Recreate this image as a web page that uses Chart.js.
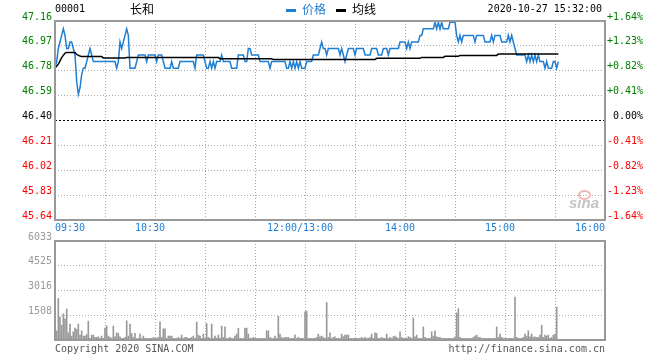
<!DOCTYPE html>
<html>
<head>
<meta charset="utf-8">
<script src="https://cdn.jsdelivr.net/npm/chart.js@4/dist/chart.umd.min.js"></script>
<style>
  body{margin:0;background:#fff;}
  #wrap{position:relative;width:660px;height:360px;overflow:hidden;font-family:"DejaVu Sans Mono",monospace;}
  #priceBox{position:absolute;left:0;top:0;width:660px;height:240px;}
  #volBox{position:absolute;left:0;top:230px;width:660px;height:119px;}
  .t{position:absolute;font-size:10px;line-height:12px;white-space:nowrap;color:#000;}
  .cjk{font-family:"Noto Sans CJK SC",sans-serif;font-size:12px;line-height:14px;}
  .key{display:inline-block;width:10px;height:3px;vertical-align:middle;margin-right:6px;}
</style>
</head>
<body>
<div id="wrap">
  <div id="priceBox"><canvas id="chartPrice" width="660" height="240"></canvas></div>
  <div id="volBox"><canvas id="chartVol" width="660" height="119"></canvas></div>

  <div class="t" style="left:55px;top:3px;">00001</div>
  <div class="t cjk" style="left:130px;top:2px;">长和</div>
  <div class="t cjk" style="left:286px;top:2px;color:#1f7fd3;"><span class="key" style="background:#1f7fd3"></span>价格</div>
  <div class="t cjk" style="left:336px;top:2px;"><span class="key" style="background:#000"></span>均线</div>
  <div class="t" style="right:58px;top:3px;">2020-10-27 15:32:00</div>

  <div class="t" style="left:569px;top:195px;font-family:'Liberation Sans',sans-serif;font-style:italic;font-weight:bold;font-size:15px;line-height:16px;color:#c4c4c4;">sina</div>
  <div style="position:absolute;left:578px;top:190px;width:9px;height:6px;border:2px solid #f4b6b6;border-radius:50%;"></div>

  <div class="t" style="left:55px;top:343px;color:#555;">Copyright 2020 SINA.COM</div>
  <div class="t" style="right:55px;top:343px;color:#555;">http://finance.sina.com.cn</div>
</div>

<script>
// 00001 CK Hutchison, intraday 2020-10-27
const prevClose = 46.40;
const priceTicks = [47.16, 46.97, 46.78, 46.59, 46.40, 46.21, 46.02, 45.83, 45.64];
const pctLabels = ["+1.64%","+1.23%","+0.82%","+0.41%","0.00%","-0.41%","-0.82%","-1.23%","-1.64%"];
const volTicks = [1508, 3016, 4525, 6033];
const timeLabels = ["09:30","10:30","12:00/13:00","14:00","15:00","16:00"];

const priceTimes = [
  "09:30","09:31","09:32","09:33","09:34","09:35","09:36","09:37","09:38","09:39","09:40","09:41","09:42","09:43","09:44","09:45",
  "09:46","09:47","09:48","09:49","09:50","09:51","09:52","09:53","10:06","10:07","10:08","10:09","10:10","10:11","10:12","10:13",
  "10:14","10:15","10:18","10:19","10:20","10:24","10:25","10:26","10:30","10:31","10:32","10:34","10:36","10:39","10:40","10:41",
  "10:44","10:45","10:53","10:54","10:55","10:59","11:00","11:01","11:02","11:03","11:04","11:05","11:06","11:07","11:09","11:10",
  "11:11","11:15","11:16","11:19","11:20","11:23","11:24","11:25","11:26","11:27","11:28","11:32","11:33","11:38","11:39","11:40",
  "11:48","11:49","11:50","11:51","11:52","11:53","11:54","11:55","11:56","11:57","11:58","12:00",
  "13:01","13:04","13:05","13:08","13:09","13:10","13:11","13:12","13:13","13:14","13:20","13:21","13:22","13:23","13:24","13:25",
  "13:26","13:29","13:30","13:31","13:35","13:36","13:39","13:40","13:43","13:44","13:46","13:47","13:49","13:50","13:51","13:56",
  "13:57","14:00","14:01","14:02","14:03","14:04","14:08","14:09","14:10","14:11","14:17","14:18","14:19","14:20","14:21","14:22",
  "14:23","14:26","14:27","14:30","14:31","14:32","14:33","14:34","14:35","14:41","14:42","14:43","14:47","14:48","14:51","14:52",
  "14:53","14:54","14:57","14:58","15:01","15:02","15:03","15:04","15:05","15:06","15:07","15:12","15:13","15:14","15:15","15:16",
  "15:17","15:18","15:19","15:20","15:21","15:23","15:24","15:25","15:26","15:28","15:29","15:30","15:31","15:32"
];
const priceValues = [
  46.80,46.85,46.95,47.00,47.05,47.10,47.05,46.95,46.95,47.00,47.00,46.95,46.90,46.70,46.60,46.65,
  46.75,46.80,46.80,46.85,46.90,46.95,46.90,46.85,46.85,46.80,46.85,47.00,46.95,47.00,47.05,47.10,
  47.05,46.80,46.80,46.85,46.90,46.90,46.85,46.90,46.90,46.85,46.90,46.90,46.80,46.80,46.85,46.80,
  46.80,46.85,46.85,46.80,46.90,46.90,46.85,46.80,46.80,46.85,46.80,46.85,46.80,46.85,46.85,46.90,
  46.85,46.85,46.80,46.80,46.90,46.90,46.85,46.85,46.95,46.95,46.90,46.90,46.85,46.85,46.80,46.85,
  46.85,46.80,46.80,46.85,46.80,46.85,46.80,46.85,46.80,46.85,46.80,46.80,
  46.85,46.85,46.90,46.90,46.95,47.00,46.95,46.95,46.90,46.95,46.95,46.90,46.95,46.90,46.85,46.90,
  46.95,46.95,46.90,46.95,46.95,46.90,46.90,46.95,46.95,46.90,46.90,46.95,46.95,46.90,46.95,46.95,
  47.00,47.00,46.95,47.00,46.95,47.00,47.00,47.05,47.05,47.10,47.10,47.15,47.10,47.15,47.10,47.15,
  47.10,47.10,47.15,47.15,47.05,47.00,47.05,47.00,47.05,47.05,47.00,47.05,47.05,47.00,47.00,47.05,
  47.00,47.05,47.05,47.00,47.00,47.05,47.00,47.05,47.00,46.95,46.90,46.90,46.85,46.90,46.85,46.90,
  46.85,46.90,46.85,46.90,46.85,46.85,46.80,46.85,46.80,46.80,46.85,46.85,46.80,46.85
];

const avgTimes = ["09:30","09:32","09:34","09:36","09:37","09:42","09:43","09:45","09:46","09:58","09:59","10:12","10:13","11:08","11:09",
  "11:40","11:41","12:00","13:42","13:43","14:09","14:10","14:23","14:24","14:32","14:33","14:55","14:56","15:32"];
const avgValues = [46.80,46.83,46.88,46.915,46.92,46.92,46.905,46.892,46.888,46.888,46.878,46.878,46.882,46.882,46.872,
  46.872,46.865,46.865,46.865,46.875,46.875,46.882,46.882,46.89,46.89,46.897,46.897,46.907,46.907];

// per-minute volume, 09:30..12:00 and 13:00..15:32
const volMorning = [
  0,560,2530,1400,900,1600,1290,1890,440,970,240,500,720,640,970,300,560,240,240,340,
  1150,100,300,300,160,160,200,100,240,100,720,850,240,160,100,850,200,440,400,200,
  100,100,160,1170,240,970,400,160,400,100,100,360,100,240,100,100,100,100,100,160,
  100,100,160,1110,160,680,680,100,240,240,240,100,100,100,160,100,300,100,160,160,
  100,100,160,240,100,1090,300,240,100,360,100,1000,160,100,970,100,240,100,300,100,
  850,160,800,100,100,160,100,100,240,360,720,100,100,100,720,720,360,100,100,160,
  100,100,100,100,100,100,100,560,560,160,100,100,240,100,1450,360,160,100,160,160,
  160,100,100,100,300,100,160,100,100,100,1710
];
const volAfternoon = [
  0,1770,100,100,100,100,100,160,360,200,240,160,100,2290,160,440,100,160,200,100,
  100,100,360,200,300,300,300,100,100,100,100,100,100,100,160,100,160,100,100,160,
  360,100,440,400,100,100,160,100,100,360,100,160,100,200,240,160,100,500,160,100,
  100,100,200,160,100,1350,200,300,100,100,100,800,160,100,100,100,500,240,560,200,
  160,160,100,100,100,100,100,100,100,100,200,1650,1910,160,100,100,100,100,100,100,
  100,160,240,300,160,160,100,100,100,100,100,100,100,100,100,800,160,360,160,100,
  100,100,100,100,100,100,2610,160,100,100,100,160,360,240,560,200,360,160,200,160,
  160,300,900,160,300,240,300,100,160,300,360,2010,0
];

const BLUE = "#1f7fd3", GREEN = "#008000", RED = "#ff0000", GRID = "#aaaaaa";

// minutes of trading since 09:30, lunch break removed
function minuteIndex(t){
  const [h, m] = t.split(":").map(Number);
  const v = h*60 + m - 570;
  return v >= 210 ? v - 60 : v;
}
const xMin = minuteIndex("09:30"), xMax = minuteIndex("16:00"), noon = minuteIndex("12:00");

Chart.defaults.font.family = "'DejaVu Sans Mono', monospace";
Chart.defaults.font.size = 10;

const frame = {
  id: "frame",
  afterDraw(c){
    const {ctx, chartArea:a} = c;
    ctx.save();
    ctx.strokeStyle = "#999";
    ctx.lineWidth = 2;
    ctx.strokeRect(a.left, a.top, a.right - a.left, a.bottom - a.top);
    ctx.restore();
  }
};

const timeAxisLabels = {
  id: "timeAxisLabels",
  afterDraw(c){
    const {ctx, chartArea:a} = c, x = c.scales.x;
    ctx.save();
    ctx.fillStyle = BLUE;
    ctx.font = "10px 'DejaVu Sans Mono', monospace";
    ctx.textBaseline = "middle";
    timeLabels.forEach((lab, i) => {
      const px = x.getPixelForValue(minuteIndex(lab.slice(0,5)));
      if (i === 0){ ctx.textAlign = "left"; ctx.fillText(lab, px, a.bottom + 8); }
      else if (i === timeLabels.length - 1){ ctx.textAlign = "right"; ctx.fillText(lab, px, a.bottom + 8); }
      else { ctx.textAlign = "center"; ctx.fillText(lab, px - 5, a.bottom + 8); }
    });
    ctx.restore();
  }
};

function tickColor(v){
  if (Math.abs(v - prevClose) < 1e-6) return "#000";
  return v > prevClose ? GREEN : RED;
}

function timeScale(){
  return {
    type: "linear", min: xMin, max: xMax, offset: false,
    ticks: { display: false, stepSize: 30 },
    grid: { color: GRID, drawTicks: false, offset: false },
    border: { display: false, dash: [1,2] },
  };
}

function makePrice(ctx){
  return new Chart(ctx, {
    type: "line",
    data: {
      datasets: [
        {label: "昨收", data: [{x:xMin, y:prevClose},{x:xMax, y:prevClose}], borderColor: "#000", borderWidth: 1, borderDash: [2,2], pointRadius: 0},
        {label: "均线", data: avgTimes.map((t,i)=>({x:minuteIndex(t), y:avgValues[i]})), borderColor: "#000", borderWidth: 1.5, pointRadius: 0},
        {label: "价格", data: priceTimes.map((t,i)=>({x:minuteIndex(t), y:priceValues[i]})), borderColor: BLUE, borderWidth: 1.5, pointRadius: 0},
      ]
    },
    options: {
      animation: false, responsive: false,
      layout: { padding: { top: 21, right: 17, left: 0, bottom: 0 } },
      scales: {
        x: Object.assign(timeScale(), { afterFit: s => { s.height = 20; } }),
        y: {
          position: "left", min: priceTicks[priceTicks.length-1], max: priceTicks[0],
          afterBuildTicks: s => { s.ticks = priceTicks.map(v=>({value:v})); },
          afterFit: s => { s.width = 55; },
          ticks: { padding: 3, labelOffset: -4, color: c => tickColor(c.tick.value), callback: v => v.toFixed(2) },
          grid: { drawTicks: false, color: c => (c.tick && Math.abs(c.tick.value - prevClose) < 1e-6) ? "rgba(0,0,0,0)" : GRID },
          border: { display: false, dash: [1,2] },
        },
        yr: {
          position: "right", min: priceTicks[priceTicks.length-1], max: priceTicks[0],
          afterBuildTicks: s => { s.ticks = priceTicks.map(v=>({value:v})); },
          afterFit: s => { s.width = 38; },
          ticks: { padding: 3, labelOffset: -4, crossAlign: "far", color: c => tickColor(c.tick.value), callback: v => pctLabels[priceTicks.indexOf(v)] },
          grid: { display: false, drawTicks: false },
          border: { display: false },
        }
      },
      plugins: { legend: { display: false }, tooltip: { enabled: false } }
    },
    plugins: [frame, timeAxisLabels]
  });
}

function makeVolume(ctx){
  const bars = volMorning.map((v,i)=>({x: xMin + i, y: v}))
    .concat(volAfternoon.map((v,i)=>({x: noon + i, y: v})));
  return new Chart(ctx, {
    type: "bar",
    data: { datasets: [{ label: "成交量", data: bars, backgroundColor: "#999", barThickness: 1 }] },
    options: {
      animation: false, responsive: false,
      layout: { padding: { top: 11, right: 55, left: 0, bottom: 0 } },
      scales: {
        x: Object.assign(timeScale(), { afterFit: s => { s.height = 0; } }),
        y: {
          min: 0, max: volTicks[volTicks.length-1],
          afterBuildTicks: s => { s.ticks = [0].concat(volTicks).map(v=>({value:v})); },
          afterFit: s => { s.width = 55; },
          ticks: { padding: 3, labelOffset: -4, color: "#999", callback: v => v === 0 ? "" : String(v) },
          grid: { drawTicks: false, color: GRID },
          border: { display: false, dash: [1,2] },
        }
      },
      plugins: { legend: { display: false }, tooltip: { enabled: false } }
    },
    plugins: [frame]
  });
}

makePrice(document.getElementById("chartPrice"));
makeVolume(document.getElementById("chartVol"));
</script>
</body>
</html>
